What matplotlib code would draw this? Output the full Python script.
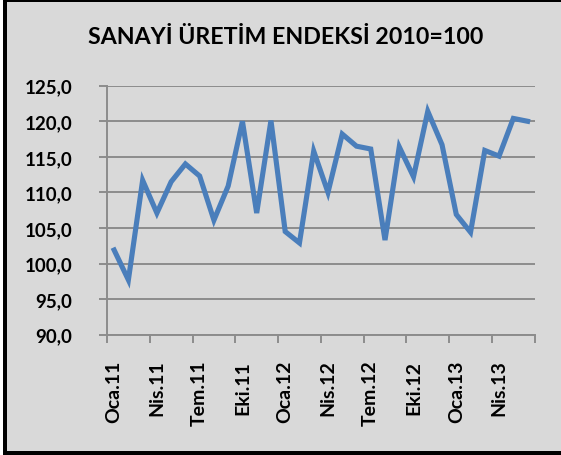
import matplotlib
matplotlib.use("Agg")
import matplotlib.pyplot as plt
from matplotlib.patches import Rectangle

title = "SANAYİ ÜRETİM ENDEKSİ 2010=100"
months = ["Oca.11", "Şub.11", "Mar.11", "Nis.11", "May.11", "Haz.11",
          "Tem.11", "Ağu.11", "Eyl.11", "Eki.11", "Kas.11", "Ara.11",
          "Oca.12", "Şub.12", "Mar.12", "Nis.12", "May.12", "Haz.12",
          "Tem.12", "Ağu.12", "Eyl.12", "Eki.12", "Kas.12", "Ara.12",
          "Oca.13", "Şub.13", "Mar.13", "Nis.13", "May.13", "Haz.13"]
values = [101.9, 97.7, 111.7, 107.1, 111.5, 114.0, 112.3, 106.1, 110.9, 120.0,
          107.1, 120.1, 104.5, 102.9, 115.8, 110.0, 118.2, 116.5, 116.1, 103.3,
          116.4, 112.2, 121.4, 116.7, 106.9, 104.4, 115.9, 115.1, 120.4, 120.0]
yticks = [90, 95, 100, 105, 110, 115, 120, 125]

W, H = 561, 456
fig = plt.figure(figsize=(W / 100, H / 100), dpi=100)
bg = "#D9D9D9"
fig.patch.set_facecolor("white")
fig.patches.append(Rectangle((3 / W, 0), 1, 1, transform=fig.transFigure,
                             facecolor=bg, edgecolor="none", zorder=-10))
fig.patches.append(Rectangle((3 / W, 0), 4 / W, 1, transform=fig.transFigure,
                             facecolor="black", edgecolor="none", zorder=-9))
fig.patches.append(Rectangle((3 / W, 1 - 3 / H), 1, 3 / H, transform=fig.transFigure,
                             facecolor="black", edgecolor="none", zorder=-9))
fig.patches.append(Rectangle((3 / W, 0), 1, 4 / H, transform=fig.transFigure,
                             facecolor="black", edgecolor="none", zorder=-9))

font = "Lato"
ax = fig.add_axes([107 / W, (H - 335.7) / H, (534.7 - 107) / W, (335.7 - 86.7) / H])
ax.set_facecolor(bg)

x = list(range(len(values)))
ax.plot(x, values, color="#4A7EBB", lw=3.7, solid_joinstyle="miter", zorder=3)

ax.set_ylim(90, 125)
ax.set_xlim(-0.5, len(values) - 0.5)
ax.set_yticks(yticks)
ax.set_yticklabels([f"{v:.1f}".replace(".", ",") for v in yticks],
                   fontfamily=font, fontweight="bold", fontsize=13.5)
ax.grid(axis="y", color="#8C8C8C", lw=1.4, zorder=1)

ax.set_xticks([i - 0.5 for i in range(0, len(values) + 1, 3)])
ax.set_xticklabels([])
ax.set_xticks(list(range(0, len(values), 3)), minor=True)
ax.set_xticklabels(months[::3], minor=True, rotation=90,
                   fontfamily=font, fontweight="bold", fontsize=14)
ax.tick_params(axis="x", which="major", length=6, width=1.4, color="#8C8C8C")
ax.tick_params(axis="x", which="minor", length=0, pad=18)
ax.tick_params(axis="y", length=6, width=1.4, color="#8C8C8C", pad=19)

for s in ["top", "right"]:
    ax.spines[s].set_visible(False)
for s in ["left", "bottom"]:
    ax.spines[s].set_color("#8C8C8C")
    ax.spines[s].set_linewidth(1.4)

fig.text(286 / W, 1 - 38 / H, title, ha="center", va="center",
         fontfamily=font, fontweight="bold", fontsize=16.7)

fig.savefig("out.png", dpi=100, facecolor=fig.get_facecolor())
